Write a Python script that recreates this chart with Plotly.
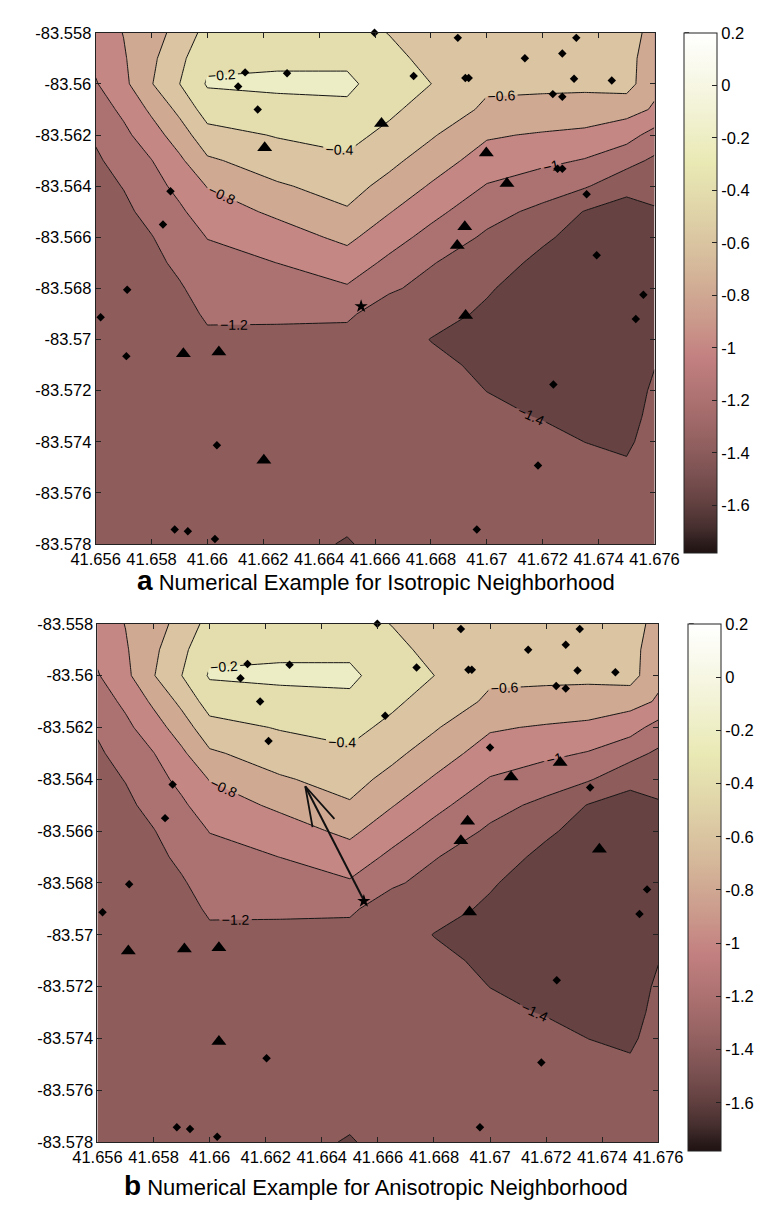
import plotly.graph_objects as go

# ---------------- data ----------------
x_nodes = [41.656, 41.657, 41.658, 41.659, 41.660, 41.6625, 41.665, 41.6665,
           41.668, 41.670, 41.672, 41.6735, 41.675, 41.676]
y_nodes = [-83.558, -83.559, -83.560, -83.561, -83.562, -83.563, -83.564,
           -83.565, -83.566, -83.567, -83.568, -83.569, -83.570, -83.571,
           -83.572, -83.573, -83.574, -83.575, -83.576, -83.577, -83.578]

# estimated surface value at each grid node (rows follow y_nodes, columns x_nodes)
z_rows = [
    [-0.90, -0.795, -0.68, -0.533, -0.33, -0.30, -0.33, -0.405, -0.47, -0.50, -0.53, -0.56, -0.55, -0.64],
    [-0.955, -0.82, -0.64, -0.45, -0.245, -0.25, -0.25, -0.35, -0.45, -0.535, -0.555, -0.575, -0.54, -0.70],
    [-1.015, -0.85, -0.61, -0.402, -0.18, -0.15, -0.15, -0.33, -0.399, -0.57, -0.575, -0.575, -0.52, -0.76],
    [-1.095, -0.96, -0.763, -0.551, -0.31, -0.285, -0.25, -0.36, -0.488, -0.63, -0.64, -0.65, -0.73, -0.82],
    [-1.175, -1.046, -0.89, -0.70, -0.471, -0.387, -0.34, -0.45, -0.578, -0.776, -0.822, -0.858, -0.922, -1.073],
    [-1.23, -1.12, -1.005, -0.838, -0.629, -0.501, -0.431, -0.549, -0.694, -0.894, -0.957, -1.012, -1.137, -1.233],
    [-1.265, -1.193, -1.073, -0.946, -0.792, -0.622, -0.526, -0.661, -0.819, -1.012, -1.107, -1.181, -1.327, -1.331],
    [-1.285, -1.24, -1.141, -1.033, -0.895, -0.765, -0.62, -0.789, -0.942, -1.131, -1.249, -1.409, -1.50, -1.42],
    [-1.295, -1.27, -1.208, -1.097, -0.995, -0.886, -0.757, -0.916, -1.065, -1.231, -1.37, -1.47, -1.52, -1.46],
    [-1.30, -1.29, -1.25, -1.16, -1.057, -0.999, -0.889, -1.044, -1.189, -1.306, -1.45, -1.52, -1.55, -1.48],
    [-1.30, -1.30, -1.28, -1.22, -1.117, -1.083, -1.021, -1.172, -1.26, -1.381, -1.50, -1.55, -1.55, -1.48],
    [-1.30, -1.30, -1.295, -1.26, -1.177, -1.166, -1.17, -1.30, -1.33, -1.43, -1.52, -1.55, -1.55, -1.46],
    [-1.30, -1.30, -1.30, -1.285, -1.23, -1.25, -1.26, -1.30, -1.405, -1.46, -1.52, -1.55, -1.55, -1.43],
    [-1.30, -1.30, -1.30, -1.297, -1.265, -1.275, -1.28, -1.30, -1.35, -1.44, -1.50, -1.55, -1.55, -1.41],
    [-1.30, -1.30, -1.30, -1.30, -1.285, -1.29, -1.295, -1.30, -1.32, -1.402, -1.46, -1.50, -1.55, -1.35],
    [-1.30, -1.30, -1.30, -1.30, -1.295, -1.30, -1.30, -1.30, -1.30, -1.36, -1.41, -1.45, -1.50, -1.32],
    [-1.30, -1.30, -1.30, -1.30, -1.30, -1.30, -1.30, -1.30, -1.30, -1.33, -1.35, -1.401, -1.44, -1.30],
    [-1.30, -1.30, -1.30, -1.30, -1.30, -1.30, -1.30, -1.30, -1.30, -1.31, -1.32, -1.35, -1.37, -1.30],
    [-1.30, -1.30, -1.30, -1.30, -1.30, -1.30, -1.30, -1.30, -1.30, -1.30, -1.30, -1.32, -1.32, -1.30],
    [-1.30, -1.30, -1.30, -1.30, -1.30, -1.30, -1.35, -1.30, -1.30, -1.30, -1.30, -1.30, -1.30, -1.30],
    [-1.30, -1.30, -1.30, -1.30, -1.30, -1.30, -1.42, -1.30, -1.30, -1.30, -1.30, -1.30, -1.30, -1.30],
]

# sample points drawn as small dots in both panels
shared_dot_x = [41.66135, 41.66285, 41.6611, 41.6618, 41.66738, 41.65868, 41.65841, 41.65713,
                41.65618, 41.65883, 41.6593, 41.66027, 41.66598, 41.66896, 41.6732, 41.67136,
                41.6727, 41.66923, 41.66935, 41.67312, 41.67447, 41.67236, 41.6727, 41.67357,
                41.6756, 41.67533, 41.67238, 41.67183, 41.66964]
shared_dot_y = [-83.55955, -83.55958, -83.5601, -83.5610, -83.55969, -83.5642, -83.5655, -83.56805,
                -83.56913, -83.57743, -83.5775, -83.5778, -83.5580, -83.5582, -83.5582, -83.5590,
                -83.55881, -83.55977, -83.55977, -83.5598, -83.55987, -83.5604, -83.5605, -83.56432,
                -83.56825, -83.5692, -83.57176, -83.57493, -83.57743]

# panel a (isotropic)
a_dot_x = [41.6571, 41.66034, 41.67253, 41.6727, 41.67393]
a_dot_y = [-83.57065, -83.57414, -83.56332, -83.56332, -83.5667]
a_tri_x = [41.66205, 41.66623, 41.66998, 41.67072, 41.66921, 41.66894, 41.66924, 41.65914, 41.66041, 41.66202]
a_tri_y = [-83.5625, -83.56155, -83.5627, -83.5639, -83.56559, -83.56632, -83.56906, -83.57056, -83.57049, -83.57472]

# panel b (anisotropic)
b_dot_x = [41.6621, 41.66626, 41.6700, 41.66203]
b_dot_y = [-83.56252, -83.56155, -83.56277, -83.57477]
b_tri_x = [41.67075, 41.6725, 41.6692, 41.66896, 41.6739, 41.66927, 41.6571, 41.6591, 41.66033, 41.66033]
b_tri_y = [-83.56391, -83.56335, -83.56562, -83.56637, -83.5667, -83.56912, -83.57063, -83.57055, -83.5705, -83.57412]

star_x = [41.6655]
star_y = [-83.5687]

# direction arrow in panel b: shaft (star -> head) and the two barbs of the head
arrow_shaft_x = [41.66547, 41.66341]
arrow_shaft_y = [-83.56861, -83.56427]
arrow_head_x = [41.66367, 41.66341, 41.66445]
arrow_head_y = [-83.56585, -83.56427, -83.56553]

x_ticks = [41.656, 41.658, 41.660, 41.662, 41.664, 41.666, 41.668, 41.670, 41.672, 41.674, 41.676]
x_tick_text = ["41.656", "41.658", "41.66", "41.662", "41.664", "41.666", "41.668", "41.67", "41.672", "41.674", "41.676"]
y_ticks = [-83.558, -83.560, -83.562, -83.564, -83.566, -83.568, -83.570, -83.572, -83.574, -83.576, -83.578]
y_tick_text = ["-83.558", "-83.56", "-83.562", "-83.564", "-83.566", "-83.568", "-83.57", "-83.572", "-83.574", "-83.576", "-83.578"]

cbar_ticks = [0.2, 0, -0.2, -0.4, -0.6, -0.8, -1.0, -1.2, -1.4, -1.6]
cbar_tick_text = ["0.2", "0", "-0.2", "-0.4", "-0.6", "-0.8", "-1", "-1.2", "-1.4", "-1.6"]
cbar_min, cbar_max = -1.78, 0.2

titles = ["Numerical Example for Isotropic Neighborhood", "Numerical Example for Anisotropic Neighborhood"]
title_letters = ["a", "b"]

# ---------------- styling ----------------
FONT = "Liberation Sans, Arial, Helvetica, sans-serif"
band_colors = ["rgb(102,66,66)", "rgb(142,92,91)", "rgb(172,113,113)", "rgb(197,135,131)",
               "rgb(208,169,146)", "rgb(218,196,161)", "rgb(228,221,174)", "rgb(237,237,197)"]
nb = len(band_colors) - 1
band_scale = []
for i, c in enumerate(band_colors):
    lo = max(0.0, (i - 0.5) / nb)
    hi = min(1.0, (i + 0.5) / nb)
    band_scale.append([lo, c])
    band_scale.append([hi, c])

pink_pos = [0, 0.02, 0.05, 0.1, 0.15, 0.2, 0.25, 0.3, 0.375, 0.45, 0.55, 0.65, 0.75, 0.85, 0.93, 1]
pink_col = ["rgb(32,18,18)", "rgb(45,29,29)", "rgb(71,47,47)", "rgb(101,66,66)", "rgb(123,81,81)",
            "rgb(142,93,93)", "rgb(159,104,104)", "rgb(174,114,114)", "rgb(195,128,128)",
            "rgb(203,154,140)", "rgb(213,184,154)", "rgb(223,210,168)", "rgb(233,233,180)",
            "rgb(242,242,213)", "rgb(249,249,236)", "rgb(255,255,255)"]
pink_scale = [[p, c] for p, c in zip(pink_pos, pink_col)]

W, H = 765, 1208
panels = [
    dict(xa="x", ya="y", xdom=(67, 665), ydom=(16, 535), cbx=696, dots=(a_dot_x, a_dot_y),
         tris=(a_tri_x, a_tri_y), title_top=554),
    dict(xa="x2", ya="y2", xdom=(69, 669), ydom=(616, 1142), cbx=701, dots=(b_dot_x, b_dot_y),
         tris=(b_tri_x, b_tri_y), title_top=1168),
]

fig = go.Figure()
shapes = []
for k, p in enumerate(panels):
    fig.add_trace(go.Contour(
        x=x_nodes, y=y_nodes, z=z_rows, xaxis=p["xa"], yaxis=p["ya"],
        autocontour=False,
        contours=dict(start=-1.4, end=-0.2, size=0.2, coloring="fill", showlabels=True,
                      labelfont=dict(size=14, color="black", family=FONT)),
        colorscale=band_scale, showscale=False,
        line=dict(color="#151515", width=1, smoothing=0),
        hoverinfo="skip"))
    fig.add_trace(go.Scatter(
        x=shared_dot_x + p["dots"][0], y=shared_dot_y + p["dots"][1], mode="markers",
        xaxis=p["xa"], yaxis=p["ya"], cliponaxis=False,
        marker=dict(symbol="diamond", size=6.5, color="black"), hoverinfo="skip"))
    fig.add_trace(go.Scatter(
        x=p["tris"][0], y=p["tris"][1], mode="markers", xaxis=p["xa"], yaxis=p["ya"],
        marker=dict(symbol="triangle-up", size=13, color="black"), hoverinfo="skip"))
    fig.add_trace(go.Scatter(
        x=star_x, y=star_y, mode="markers", xaxis=p["xa"], yaxis=p["ya"],
        marker=dict(symbol="star", size=10, color="black"), hoverinfo="skip"))
    # colorbar (continuous pink map)
    cb_len = p["ydom"][1] - p["ydom"][0] + 1
    fig.add_trace(go.Scatter(
        x=[None], y=[None], mode="markers", xaxis=p["xa"], yaxis=p["ya"], hoverinfo="skip",
        marker=dict(color=[cbar_min], cmin=cbar_min, cmax=cbar_max, colorscale=pink_scale,
                    showscale=True,
                    colorbar=dict(x=p["cbx"] / W, xanchor="left", xref="paper",
                                  y=1 - p["ydom"][0] / H, yanchor="top", yref="paper",
                                  len=cb_len, lenmode="pixels",
                                  thickness=33, thicknessmode="pixels", xpad=0, ypad=0,
                                  outlinecolor="#222", outlinewidth=1,
                                  ticks="inside", ticklen=5, tickcolor="#222",
                                  tickvals=cbar_ticks, ticktext=cbar_tick_text,
                                  tickfont=dict(size=16.5, color="black", family=FONT)))))
    # inward ticks on the left side of the colour bar as well
    for tv in cbar_ticks:
        ypx = p["ydom"][0] + (cbar_max - tv) / (cbar_max - cbar_min) * cb_len
        shapes.append(dict(type="line", xref="paper", yref="paper",
                           x0=(p["cbx"] + 1) / W, x1=(p["cbx"] + 6) / W,
                           y0=1 - ypx / H, y1=1 - ypx / H,
                           line=dict(color="#222", width=1)))

    axis_common = dict(showgrid=False, zeroline=False, showline=True, linecolor="#222",
                       linewidth=1, mirror="ticks", ticks="inside", ticklen=5, tickcolor="#222",
                       tickfont=dict(size=16.5, color="black", family=FONT))
    xkey = "xaxis" if k == 0 else "xaxis2"
    ykey = "yaxis" if k == 0 else "yaxis2"
    fig.update_layout(**{
        xkey: dict(axis_common, domain=[p["xdom"][0] / W, p["xdom"][1] / W],
                   range=[41.656, 41.676], tickvals=x_ticks, ticktext=x_tick_text,
                   anchor=p["ya"]),
        ykey: dict(axis_common, domain=[1 - p["ydom"][1] / H, 1 - p["ydom"][0] / H],
                   range=[-83.578, -83.558], tickvals=y_ticks, ticktext=y_tick_text,
                   anchor=p["xa"]),
    })
    fig.add_annotation(
        x=367.5 / W, y=1 - p["title_top"] / H, xref="paper", yref="paper",
        xanchor="center", yanchor="top", showarrow=False,
        text='<span style="font-size:28px;font-weight:bold">' + title_letters[k] + "</span> " + titles[k],
        font=dict(size=22, color="black", family=FONT))

# arrow of the anisotropic direction (panel b)
fig.add_trace(go.Scatter(x=arrow_shaft_x, y=arrow_shaft_y, mode="lines", xaxis="x2", yaxis="y2",
                         line=dict(color="#111", width=2), hoverinfo="skip"))
fig.add_trace(go.Scatter(x=arrow_head_x, y=arrow_head_y, mode="lines", xaxis="x2", yaxis="y2",
                         line=dict(color="#111", width=1.8), hoverinfo="skip"))

fig.update_layout(width=W, height=H, margin=dict(l=0, r=0, t=0, b=0),
                  paper_bgcolor="white", plot_bgcolor="white", showlegend=False,
                  font=dict(family=FONT, color="black"), shapes=shapes)

fig.write_html("out.html")
